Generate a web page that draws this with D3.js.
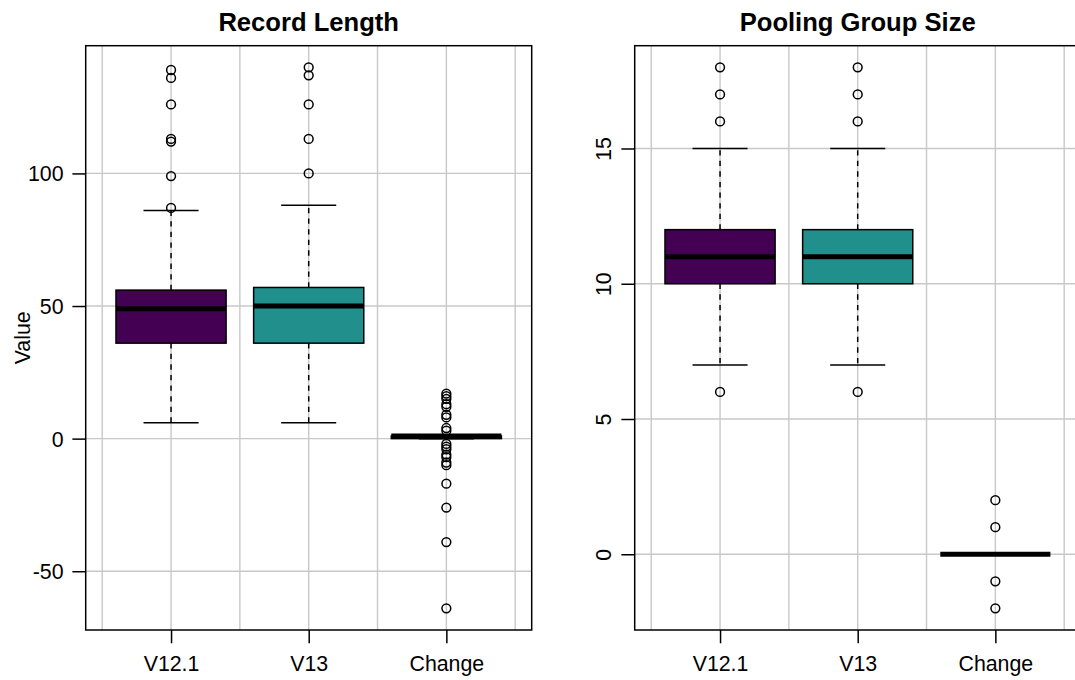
<!DOCTYPE html>
<html><head><meta charset="utf-8">
<script src="https://cdn.jsdelivr.net/npm/d3@7"></script>
<style>
body{margin:0;background:#fff}
svg{display:block}
text{font-family:"Liberation Sans",Arial,Helvetica,sans-serif;fill:#000}
</style>
</head><body>
<svg id="c" width="1075" height="680"></svg>
<script>
// ---- data ----
const categories = ["V12.1", "V13", "Change"];

const recordQ1 = [36, 36, 0];
const recordMedian = [49, 50, 1];
const recordQ3 = [56, 57, 1];
const recordLower = [6, 6, 0];
const recordUpper = [86, 88, 1];
const recordOutliers = [
  [139, 136, 126, 113, 112, 99, 87],
  [140, 137, 126, 113, 100],
  [17, 16, 15, 13, 12, 9, 8, 4, 3, -2, -3, -4, -6, -7, -9, -10, -17, -26, -39, -64]
];
const recordTicks = [-50, 0, 50, 100];

const poolQ1 = [10, 10, 0];
const poolMedian = [11, 11, 0];
const poolQ3 = [12, 12, 0];
const poolLower = [7, 7, 0];
const poolUpper = [15, 15, 0];
const poolOutliers = [
  [18, 17, 16, 6],
  [18, 17, 16, 6],
  [2, 1, -1, -2]
];
const poolTicks = [0, 5, 10, 15];

const boxFills = ["#440154", "#21908C", "#ffffff"];

// ---- drawing ----
const svg = d3.select("#c");
svg.append("rect").attr("width", 1075).attr("height", 680).attr("fill", "#fff");

const LW = 1.5;
const plotTop = 45.7, plotBottom = 630;

function panel(cfg) {
  const g = svg.append("g");
  const n = categories.length;
  const xs = d3.scaleLinear().domain([0.5 - 0.04 * n, n + 0.5 + 0.04 * n]).range([cfg.left, cfg.right]);
  const allVals = [].concat(cfg.lower, cfg.upper, ...cfg.outliers);
  const lo = d3.min(allVals), hi = d3.max(allVals), ext = (hi - lo) * 0.04;
  const ys = d3.scaleLinear().domain([lo - ext, hi + ext]).range([plotBottom, plotTop]);

  // grid
  const gridX = d3.range(0.5, n + 0.51, 0.5);
  g.selectAll(".gx").data(gridX).enter().append("line")
    .attr("x1", d => xs(d)).attr("x2", d => xs(d))
    .attr("y1", plotTop).attr("y2", plotBottom)
    .attr("stroke", "#c8c8c8").attr("stroke-width", 1.4);
  g.selectAll(".gy").data(cfg.ticks).enter().append("line")
    .attr("x1", cfg.left).attr("x2", cfg.right)
    .attr("y1", d => ys(d)).attr("y2", d => ys(d))
    .attr("stroke", "#c8c8c8").attr("stroke-width", 1.4);

  const idx = d3.range(n);
  const bw = 0.4, cw = 0.2;
  idx.forEach(i => {
    const x = xs(i + 1);
    [[cfg.q1[i], cfg.lower[i]], [cfg.q3[i], cfg.upper[i]]].forEach(([a, b]) => {
      if (a !== b) g.append("line").attr("x1", x).attr("x2", x)
        .attr("y1", ys(a)).attr("y2", ys(b))
        .attr("stroke", "#000").attr("stroke-width", LW).attr("stroke-dasharray", "5.3,5.3");
    });
    [cfg.lower[i], cfg.upper[i]].forEach(v => {
      g.append("line").attr("x1", xs(i + 1 - cw)).attr("x2", xs(i + 1 + cw))
        .attr("y1", ys(v)).attr("y2", ys(v))
        .attr("stroke", "#000").attr("stroke-width", LW);
    });
    g.append("rect")
      .attr("x", xs(i + 1 - bw)).attr("width", xs(i + 1 + bw) - xs(i + 1 - bw))
      .attr("y", ys(cfg.q3[i])).attr("height", Math.max(0, ys(cfg.q1[i]) - ys(cfg.q3[i])))
      .attr("fill", boxFills[i]).attr("stroke", "#000").attr("stroke-width", LW);
    g.append("line").attr("x1", xs(i + 1 - bw)).attr("x2", xs(i + 1 + bw))
      .attr("y1", ys(cfg.median[i])).attr("y2", ys(cfg.median[i]))
      .attr("stroke", "#000").attr("stroke-width", 5);
    g.selectAll(null).data(cfg.outliers[i]).enter().append("circle")
      .attr("cx", x).attr("cy", d => ys(d)).attr("r", 4.4)
      .attr("fill", "none").attr("stroke", "#000").attr("stroke-width", LW);
  });

  // frame
  g.append("rect").attr("x", cfg.left).attr("y", plotTop)
    .attr("width", cfg.right - cfg.left).attr("height", plotBottom - plotTop)
    .attr("fill", "none").attr("stroke", "#000").attr("stroke-width", LW);

  // x axis
  const xa = d3.axisBottom(xs).tickValues(idx.map(i => i + 1))
    .tickFormat(d => categories[d - 1]).tickSize(13.3).tickSizeOuter(0);
  const gxA = g.append("g").attr("transform", `translate(0,${plotBottom})`).call(xa);
  gxA.select(".domain").remove();
  gxA.selectAll(".tick line").attr("stroke", "#000").attr("stroke-width", LW);
  gxA.selectAll(".tick text").attr("y", 41).attr("dy", null)
    .style("font-size", "21.33px").style("font-family", '"Liberation Sans",Arial,sans-serif').attr("fill", "#000");

  // y axis
  const ya = d3.axisLeft(ys).tickValues(cfg.ticks).tickSize(13.3).tickSizeOuter(0);
  const gyA = g.append("g").attr("transform", `translate(${cfg.left},0)`).call(ya);
  gyA.select(".domain").remove();
  gyA.selectAll(".tick line").attr("stroke", "#000").attr("stroke-width", LW);
  const yt = gyA.selectAll(".tick text")
    .style("font-size", "21.33px").style("font-family", '"Liberation Sans",Arial,sans-serif')
    .attr("fill", "#000").text(d => d < 0 ? "-" + Math.abs(d) : String(d));
  if (cfg.rotateTicks) {
    yt.attr("x", null).attr("dy", null).attr("text-anchor", "middle")
      .attr("transform", "translate(-24,0) rotate(-90)");
  } else {
    yt.attr("x", -22.2).attr("dy", "0.35em").attr("text-anchor", "end");
  }

  // title
  g.append("text").attr("x", (cfg.left + cfg.right) / 2).attr("y", 31)
    .attr("text-anchor", "middle").style("font-size", "25.6px").style("font-weight", "bold")
    .text(cfg.title);
  if (cfg.ylabel) {
    g.append("text").attr("transform", `translate(30,${(plotTop + plotBottom) / 2}) rotate(-90)`)
      .attr("text-anchor", "middle").style("font-size", "21.33px").text(cfg.ylabel);
  }
}

panel({
  left: 85.7, right: 531.7, title: "Record Length", ylabel: "Value",
  q1: recordQ1, median: recordMedian, q3: recordQ3, lower: recordLower, upper: recordUpper,
  outliers: recordOutliers, ticks: recordTicks, rotateTicks: false
});
panel({
  left: 634.7, right: 1080.7, title: "Pooling Group Size", ylabel: null,
  q1: poolQ1, median: poolMedian, q3: poolQ3, lower: poolLower, upper: poolUpper,
  outliers: poolOutliers, ticks: poolTicks, rotateTicks: true
});
</script>
</body></html>
